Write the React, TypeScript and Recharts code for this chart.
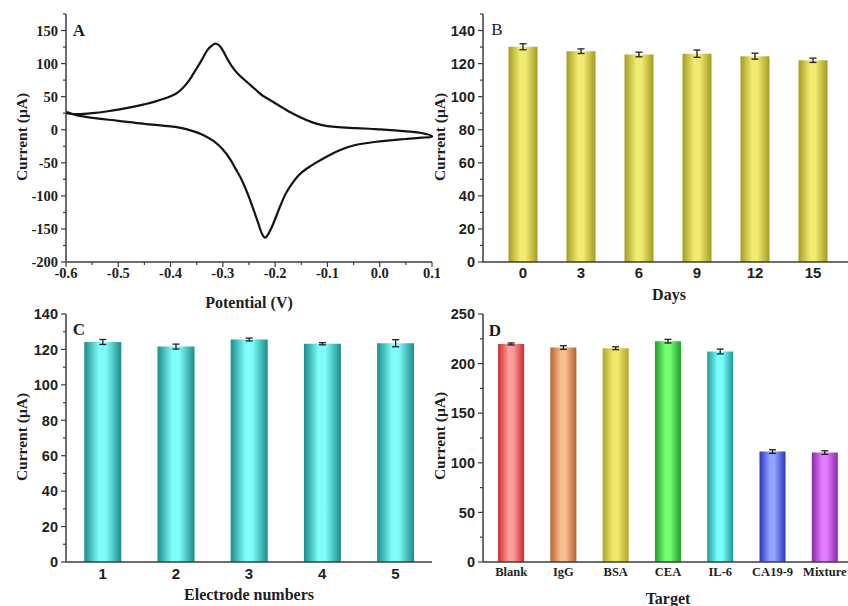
import React from 'react';
import { LineChart, Line, BarChart, Bar, XAxis, YAxis, ErrorBar, Cell } from 'recharts';

// A: cyclic voltammogram, one closed loop (forward along the top, back along the bottom)
const cvPotential = [
  -0.6, -0.58, -0.55, -0.52, -0.5, -0.47, -0.45, -0.43, -0.41, -0.4, -0.39, -0.38, -0.37, -0.36,
  -0.35, -0.34, -0.33, -0.32, -0.313, -0.305, -0.298, -0.29, -0.282, -0.274, -0.265, -0.255,
  -0.245, -0.235, -0.223, -0.21, -0.2, -0.185, -0.17, -0.15, -0.13, -0.11, -0.1, -0.08, -0.05,
  -0.02, 0.0, 0.03, 0.06, 0.08, 0.1,
  0.08, 0.05, 0.02, -0.01, -0.04, -0.06, -0.08, -0.1, -0.12, -0.14, -0.155, -0.17, -0.18, -0.19,
  -0.2, -0.208, -0.215, -0.22, -0.226, -0.232, -0.24, -0.248, -0.255, -0.265, -0.275, -0.285,
  -0.3, -0.318, -0.335, -0.35, -0.37, -0.4, -0.45, -0.5, -0.55, -0.58, -0.6,
];
const cvCurrent = [
  25, 23.5, 25, 28, 30.5, 35, 38.5, 42.5, 47.5, 50.5, 54.5, 60.5, 69, 80,
  93, 106, 120, 128, 130, 126, 117, 105, 95, 87, 80, 73,
  66, 59, 51, 45, 40, 33, 26, 18, 11.5, 7, 5.5, 4, 2.5,
  1.5, 0.5, -1, -3, -5, -10,
  -12, -14, -16, -18.5, -22, -26, -32, -40, -49, -59, -69, -84, -97, -115,
  -135, -150, -160, -163, -156, -142, -124, -106, -92, -74, -60, -46,
  -30, -17, -9, -4, 1, 5, 9, 13.5, 18, 22, 27,
];

// B: stability over days
const days = ['0', '3', '6', '9', '12', '15'];
const dayCurrent = [130.2, 127.5, 125.5, 126, 124.5, 122];
const dayError = [1.8, 1.4, 1.4, 2.2, 1.8, 1.3];

// C: reproducibility
const electrodes = ['1', '2', '3', '4', '5'];
const electrodeCurrent = [124.2, 121.6, 125.6, 123.2, 123.5];
const electrodeError = [1.4, 1.4, 0.8, 0.6, 2];

// D: selectivity
const targets = ['Blank', 'IgG', 'BSA', 'CEA', 'IL-6', 'CA19-9', 'Mixture'];
const targetCurrent = [219.8, 216.2, 215.5, 222.6, 212.2, 111.3, 110.3];
const targetError = [1, 1.8, 1.4, 1.8, 2.4, 1.8, 1.8];

// ticks
const xMajorA = [-0.6, -0.5, -0.4, -0.3, -0.2, -0.1, 0.0, 0.1];
const xMinorA = [-0.55, -0.45, -0.35, -0.25, -0.15, -0.05, 0.05];
const yMajorA = [-200, -150, -100, -50, 0, 50, 100, 150];
const yMinorA = [-175, -125, -75, -25, 25, 75, 125, 175];
const yMajorB = [0, 20, 40, 60, 80, 100, 120, 140];
const yMinorB = [10, 30, 50, 70, 90, 110, 130, 150];
const yMajorC = [0, 20, 40, 60, 80, 100, 120, 140];
const yMinorC = [10, 30, 50, 70, 90, 110, 130];
const yMajorD = [0, 50, 100, 150, 200, 250];
const yMinorD = [25, 75, 125, 175, 225];

// gradient colours: [edge, centre]
const yellowBar = ['#a39b22', '#f2eb72'];
const tealBar = ['#1b8c8a', '#80fdfb'];
const targetColors = [
  ['#cf2a2a', '#ff9c9c'],
  ['#b6622c', '#f8bd92'],
  ['#ada526', '#f0e86a'],
  ['#1e9c28', '#74ff74'],
  ['#22999a', '#7affff'],
  ['#2a36be', '#92a2ff'],
  ['#8a28a6', '#e27cff'],
];

const AXIS = '#3c3c3c';
const INK = '#1e1e1e';
const SERIF = '"Liberation Serif", "Times New Roman", serif';
const SANS = '"Liberation Sans", Arial, sans-serif';
const frame = { stroke: AXIS, strokeWidth: 1.5 };

const cvData = cvPotential.map((p, i) => ({ p, cur: cvCurrent[i] }));
const dayData = days.map((d, i) => ({ name: d, v: dayCurrent[i], e: dayError[i] }));
const electrodeData = electrodes.map((d, i) => ({ name: d, v: electrodeCurrent[i], e: electrodeError[i] }));
const targetData = targets.map((d, i) => ({ name: d, v: targetCurrent[i], e: targetError[i] }));

const sorted = (a: number[], b: number[]) => [...a, ...b].sort((m, n) => m - n);

function makeYTick(majors: number[], font: string) {
  return (props: any) => {
    const { x, y, payload } = props;
    const major = majors.includes(payload.value);
    return (
      <g>
        <line x1={x - (major ? 5 : 3)} x2={x} y1={y} y2={y} stroke={AXIS} strokeWidth={1.2} />
        {major && (
          <text x={x - 8} y={y} dy="0.36em" textAnchor="end" fontFamily={font} fontWeight="bold" fontSize={14.5} fill={INK}>
            {payload.value}
          </text>
        )}
      </g>
    );
  };
}

function XTickA(props: any) {
  const { x, y, payload } = props;
  const major = xMajorA.includes(payload.value);
  return (
    <g>
      <line x1={x} x2={x} y1={y} y2={y + (major ? 5 : 3)} stroke={AXIS} strokeWidth={1.2} />
      {major && (
        <text x={x} y={y + 16} textAnchor="middle" fontFamily={SERIF} fontWeight="bold" fontSize={14.5} fill={INK}>
          {payload.value.toFixed(1)}
        </text>
      )}
    </g>
  );
}

function Label({ x, y, text, rotate = false, size = 16, bold = true, font = SERIF }: any) {
  return (
    <div
      style={{
        position: 'absolute',
        left: x,
        top: y,
        transform: `translate(-50%, -50%)${rotate ? ' rotate(-90deg)' : ''}`,
        whiteSpace: 'nowrap',
        fontFamily: font,
        fontWeight: bold ? 'bold' : 'normal',
        fontSize: size,
        lineHeight: 1,
        color: INK,
      }}
    >
      {text}
    </div>
  );
}

function Grad({ id, c }: { id: string; c: string[] }) {
  return (
    <linearGradient id={id} x1="0" y1="0" x2="1" y2="0">
      <stop offset="0%" stopColor={c[0]} />
      <stop offset="40%" stopColor={c[1]} />
      <stop offset="58%" stopColor={c[1]} />
      <stop offset="100%" stopColor={c[0]} />
    </linearGradient>
  );
}

function BarPanel({ data, majors, minors, domain, grads, gradId, tickFont, tickSize, tickGap, w, h, margin, yWidth, pad }: any) {
  return (
    <BarChart width={w} height={h} data={data} margin={margin} barCategoryGap="25%">
      <defs>
        {grads.map((c: string[], i: number) => (
          <Grad key={i} id={`${gradId}${i}`} c={c} />
        ))}
      </defs>
      <XAxis
        dataKey="name"
        padding={pad}
        interval={0}
        height={30}
        tickLine={false}
        tickSize={0}
        tickMargin={tickGap}
        axisLine={frame}
        tick={{ fontFamily: tickFont, fontWeight: 'bold', fontSize: tickSize, fill: INK }}
      />
      <XAxis xAxisId="top" orientation="top" dataKey="name" padding={pad} height={0} tick={false} tickLine={false} axisLine={frame} />
      <YAxis
        type="number"
        domain={domain}
        ticks={sorted(majors, minors)}
        interval={0}
        width={yWidth}
        tickLine={false}
        tickSize={0}
        tickMargin={0}
        axisLine={frame}
        tick={makeYTick(majors, SANS)}
      />
      <YAxis yAxisId="right" orientation="right" type="number" domain={domain} width={0} tick={false} tickLine={false} axisLine={frame} />
      <Bar dataKey="v" isAnimationActive={false}>
        {data.map((_: any, i: number) => (
          <Cell key={i} fill={`url(#${gradId}${grads.length > 1 ? i : 0})`} />
        ))}
        <ErrorBar dataKey="e" width={3.5} stroke={INK} strokeWidth={1.3} direction="y" />
      </Bar>
    </BarChart>
  );
}

export default function App() {
  return (
    <div style={{ position: 'absolute', left: 0, top: 0, width: 848, height: 606, overflow: 'hidden', background: '#fff' }}>
      {/* A */}
      <div style={{ position: 'absolute', left: 0, top: 0 }}>
        <LineChart width={440} height={310} data={cvData} margin={{ top: 14, right: 8, bottom: 18, left: 20 }}>
          <XAxis
            dataKey="p"
            type="number"
            domain={[-0.6, 0.1]}
            ticks={sorted(xMajorA, xMinorA)}
            interval={0}
            height={30}
            tickLine={false}
            tickSize={0}
            tickMargin={0}
            axisLine={frame}
            tick={XTickA}
          />
          <XAxis xAxisId="top" orientation="top" dataKey="p" type="number" domain={[-0.6, 0.1]} height={0} tick={false} tickLine={false} axisLine={frame} />
          <YAxis
            type="number"
            domain={[-200, 175]}
            ticks={sorted(yMajorA, yMinorA)}
            interval={0}
            width={46}
            tickLine={false}
            tickSize={0}
            tickMargin={0}
            axisLine={frame}
            tick={makeYTick(yMajorA, SERIF)}
          />
          <YAxis yAxisId="right" orientation="right" type="number" domain={[-200, 175]} width={0} tick={false} tickLine={false} axisLine={frame} />
          <Line dataKey="cur" type="natural" stroke="#141414" strokeWidth={2.2} dot={false} isAnimationActive={false} />
        </LineChart>
      </div>

      {/* B */}
      <div style={{ position: 'absolute', left: 430, top: 0 }}>
        <BarPanel
          data={dayData}
          majors={yMajorB}
          minors={yMinorB}
          domain={[0, 150]}
          grads={[yellowBar]}
          gradId="gb"
          tickFont={SANS}
          tickSize={15}
          tickGap={5}
          w={425}
          h={310}
          margin={{ top: 14, right: 2, bottom: 18, left: 12 }}
          yWidth={41}
          pad={{ left: 11, right: 11 }}
        />
      </div>

      {/* C */}
      <div style={{ position: 'absolute', left: 0, top: 300 }}>
        <BarPanel
          data={electrodeData}
          majors={yMajorC}
          minors={yMinorC}
          domain={[0, 140]}
          grads={[tealBar]}
          gradId="gc"
          tickFont={SANS}
          tickSize={15}
          tickGap={6}
          w={440}
          h={306}
          margin={{ top: 14, right: 8, bottom: 14, left: 20 }}
          yWidth={46}
          pad={{ left: 0, right: 0 }}
        />
      </div>

      {/* D */}
      <div style={{ position: 'absolute', left: 430, top: 300 }}>
        <BarPanel
          data={targetData}
          majors={yMajorD}
          minors={yMinorD}
          domain={[0, 250]}
          grads={targetColors}
          gradId="gd"
          tickFont={SERIF}
          tickSize={12.5}
          tickGap={5}
          w={425}
          h={306}
          margin={{ top: 14, right: 2, bottom: 14, left: 12 }}
          yWidth={41}
          pad={{ left: 2, right: 2 }}
        />
      </div>

      <Label x={79} y={30} text="A" size={17} />
      <Label x={497} y={29} text="B" size={17} bold={false} />
      <Label x={79} y={329} text="C" size={17} />
      <Label x={495} y={330} text="D" size={17} />

      <Label x={22} y={137} text="Current (μA)" rotate size={15.5} />
      <Label x={249} y={303} text="Potential (V)" />
      <Label x={440} y={137} text="Current (μA)" rotate size={15.5} />
      <Label x={669} y={295} text="Days" />
      <Label x={22} y={437} text="Current (μA)" rotate size={15.5} />
      <Label x={249} y={595} text="Electrode numbers" />
      <Label x={440} y={436} text="Current (μA)" rotate size={15.5} />
      <Label x={668} y={599} text="Target" />
    </div>
  );
}
